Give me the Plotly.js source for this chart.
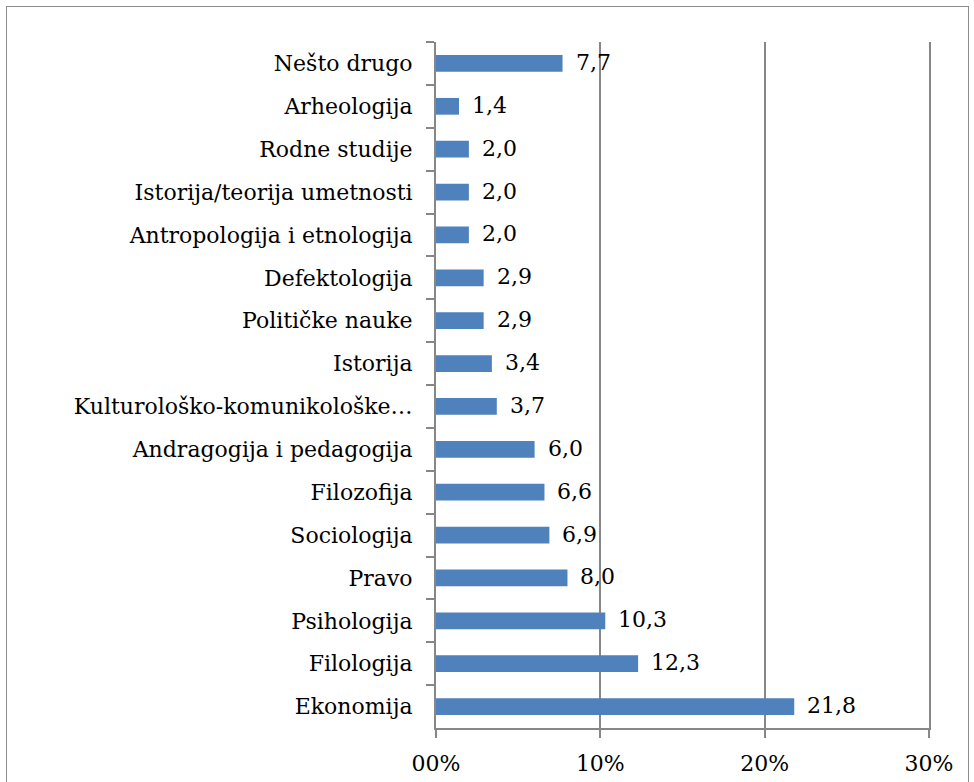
<!DOCTYPE html>
<html>
<head>
<meta charset="utf-8">
<script src="https://cdn.plot.ly/plotly-3.0.1.min.js"></script>
<style>
  html, body { margin: 0; padding: 0; background: #fff; overflow: hidden; }
  #frame { position: absolute; left: 6px; top: 6px; width: 963px; height: 820px; border: 1.5px solid #8c8c8c; box-sizing: border-box; pointer-events: none; z-index: 5; }
  #chart { position: absolute; left: 0; top: 0; width: 974px; height: 782px; }
</style>
</head>
<body>
<div id="chart"></div>
<div id="frame"></div>
<script>
const categories = [
  "Nešto drugo", "Arheologija", "Rodne studije", "Istorija/teorija umetnosti",
  "Antropologija i etnologija", "Defektologija", "Političke nauke", "Istorija",
  "Kulturološko-komunikološke…", "Andragogija i pedagogija", "Filozofija",
  "Sociologija", "Pravo", "Psihologija", "Filologija", "Ekonomija"
];
const values = [7.7, 1.4, 2.0, 2.0, 2.0, 2.9, 2.9, 3.4, 3.7, 6.0, 6.6, 6.9, 8.0, 10.3, 12.3, 21.8];
const valueLabels = ["7,7", "1,4", "2,0", "2,0", "2,0", "2,9", "2,9", "3,4", "3,7", "6,0", "6,6", "6,9", "8,0", "10,3", "12,3", "21,8"];
const xTickVals = [0, 10, 20, 30];
const xTickText = ["00%", "10%", "20%", "30%"];

const FONT = "DejaVu Serif, Liberation Serif, serif";
const GRAY = "#878787";

const trace = {
  type: "bar",
  orientation: "h",
  x: values,
  y: categories,
  width: 0.39,
  marker: { color: "#4F81BD", line: { width: 0 } },
  hoverinfo: "none"
};

const annotations = values.map((v, i) => ({
  x: v, y: categories[i], xref: "x", yref: "y",
  text: valueLabels[i], showarrow: false,
  xanchor: "left", yanchor: "middle", xshift: 11, yshift: 1,
  font: { family: FONT, size: 22, color: "#000" }
}));

const layout = {
  width: 974, height: 782,
  margin: { l: 436, r: 45, t: 42, b: 54, pad: 0 },
  paper_bgcolor: "#fff", plot_bgcolor: "#fff",
  font: { family: FONT, size: 22, color: "#000" },
  showlegend: false,
  bargap: 0.6,
  xaxis: {
    range: [0, 30], tickvals: xTickVals, ticktext: xTickText,
    showgrid: true, gridcolor: GRAY, gridwidth: 2,
    showline: true, linecolor: GRAY, linewidth: 2,
    ticks: "outside", ticklen: 8, tickcolor: GRAY, tickwidth: 2,
    ticklabelstandoff: 7,
    zeroline: false, fixedrange: true,
    tickfont: { family: FONT, size: 22, color: "#000" }
  },
  yaxis: {
    type: "category", autorange: "reversed",
    showgrid: false, zeroline: false,
    showline: true, linecolor: GRAY, linewidth: 2, mirror: true,
    ticks: "outside", ticklen: 8, tickcolor: GRAY, tickwidth: 2,
    tickson: "boundaries", ticklabelstandoff: 17,
    fixedrange: true,
    tickfont: { family: FONT, size: 22, color: "#000" }
  },
  annotations: annotations
};

Plotly.newPlot("chart", [trace], layout, { displayModeBar: false, staticPlot: true });
</script>
</body>
</html>
